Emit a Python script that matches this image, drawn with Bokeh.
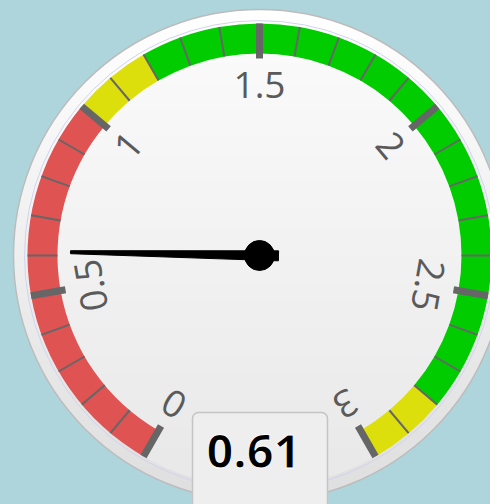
import numpy as np
from bokeh.plotting import figure
from bokeh.models import Range1d
from bokeh.embed import file_html
from bokeh.resources import INLINE
from bokeh.core.properties import value

# ---------------- data ----------------
scale_min = 0
scale_max = 3
gauge_value = 0.61
tick_values = [0, 0.5, 1, 1.5, 2, 2.5, 3]
tick_labels = ["0", "0.5", "1", "1.5", "2", "2.5", "3"]
minor_step = 0.1
band_from = [0, 1, 1.2, 2.8]
band_to = [1, 1.2, 2.8, 3]
band_colors = ["#DF5353", "#DDDF0D", "#00CC00", "#DDDF0D"]

# ---------------- layout / style ----------------
W, H = 490, 504
CX, CY = 259, 255          # gauge centre in figure pixels (from left / top)
BG = "#AED5DB"
START_DEG, END_DEG = -150, 150
R_PANE = 246
R_BAND_OUT, R_BAND_IN = 232, 202
R_LABEL = 171
R_MAJOR_IN = 197
NEEDLE_LEN = 189


def to_angle(v):
    v = np.asarray(v, dtype=float)
    theta = START_DEG + (v - scale_min) / (scale_max - scale_min) * (END_DEG - START_DEG)
    return np.radians(90.0 - theta)


def hexmix(c0, c1, t):
    a = [int(c0[i:i + 2], 16) for i in (1, 3, 5)]
    b = [int(c1[i:i + 2], 16) for i in (1, 3, 5)]
    return "#%02x%02x%02x" % tuple(int(round(a[i] + (b[i] - a[i]) * t)) for i in range(3))


def disc_stripes(R, n, c_top, c_bot):
    xs, ys, cols = [], [], []
    edges = np.linspace(R, -R, n + 1)
    for k in range(n):
        y0 = edges[k]
        y1 = max(edges[k + 1] - 1.0, -R)
        yy = np.linspace(y0, y1, 10)
        xr = np.sqrt(np.clip(R * R - yy * yy, 0, None))
        xs.append(list(xr) + list(-xr[::-1]))
        ys.append(list(yy) + list(yy[::-1]))
        cols.append(hexmix(c_top, c_bot, (k + 0.5) / n))
    return xs, ys, cols


p = figure(width=W, height=H,
           x_range=Range1d(-CX, W - CX), y_range=Range1d(-(H - CY), CY),
           output_backend="svg", toolbar_location=None,
           x_axis_type=None, y_axis_type=None, min_border=0,
           background_fill_color=BG, border_fill_color=BG,
           outline_line_color=None)
p.grid.visible = False

# pane (outer disc + face) with vertical gradient
xs, ys, cols = disc_stripes(R_PANE, 70, "#ffffff", "#dedede")
p.patches(xs, ys, fill_color=cols, line_color=None)
p.circle(x=[0], y=[0], radius=R_PANE, fill_color=None, line_color="#bcbcbc", line_width=1.5)
xs, ys, cols = disc_stripes(R_BAND_OUT, 70, "#fbfbfb", "#e8e8e8")
p.patches(xs, ys, fill_color=cols, line_color=None)
p.circle(x=[0], y=[0], radius=R_BAND_OUT + 3, fill_color=None, line_color="#cfd3ee", line_width=1)

# plot bands
p.annular_wedge(x=0, y=0, inner_radius=R_BAND_IN, outer_radius=R_BAND_OUT,
                start_angle=to_angle(band_to), end_angle=to_angle(band_from),
                direction="anticlock", fill_color=band_colors, line_color=None)

# minor ticks
minor_vals = [round(scale_min + i * minor_step, 3)
              for i in range(int(round((scale_max - scale_min) / minor_step)) + 1)]
minor_vals = [v for v in minor_vals if all(abs(v - t) > 1e-6 for t in tick_values)]
ma = to_angle(minor_vals)
p.segment(x0=R_BAND_IN * np.cos(ma), y0=R_BAND_IN * np.sin(ma),
          x1=R_BAND_OUT * np.cos(ma), y1=R_BAND_OUT * np.sin(ma),
          line_color="#666666", line_width=2)

# major ticks
ta = to_angle(tick_values)
p.segment(x0=R_MAJOR_IN * np.cos(ta), y0=R_MAJOR_IN * np.sin(ta),
          x1=R_BAND_OUT * np.cos(ta), y1=R_BAND_OUT * np.sin(ta),
          line_color="#666666", line_width=7)

# tick labels (rotated along the arc)
p.text(x=R_LABEL * np.cos(ta), y=R_LABEL * np.sin(ta), text=tick_labels,
       angle=ta - np.pi / 2, text_align="center", text_baseline="middle",
       text_font=value("Open Sans"), text_font_size="37px", text_color="#5a5a5a")

# needle
a = float(to_angle(gauge_value))
u = np.array([np.cos(a), np.sin(a)])
nrm = np.array([-np.sin(a), np.cos(a)])
rear, base_w, top_w = 19, 10, 3
pts = [(-rear, -base_w / 2), (NEEDLE_LEN, -top_w / 2), (NEEDLE_LEN, top_w / 2), (-rear, base_w / 2)]
nx = [s * u[0] + t * nrm[0] for s, t in pts]
ny = [s * u[1] + t * nrm[1] for s, t in pts]
p.patch(nx, ny, fill_color="black", line_color="black", line_width=1)
p.circle(x=[0], y=[0], radius=15, fill_color="black", line_color="black")

# value label
p.quad(left=[-67], right=[68], top=[-157], bottom=[-275], fill_color="#eeeeee",
       line_color="#c4c4c4", line_width=1.5, border_radius=6)
p.text(x=[-6], y=[-196], text=["%.2f" % gauge_value], text_align="center",
       text_baseline="middle", text_font=value("Open Sans"), text_font_size="47px",
       text_font_style="bold", text_color="black",
       text_outline_color="white")

html = file_html(p, INLINE)
html = html.replace("</head>",
                    "<style>html,body{margin:0;padding:0;overflow:hidden;background:%s;}</style></head>" % BG, 1)
open("out.html", "w").write(html)
